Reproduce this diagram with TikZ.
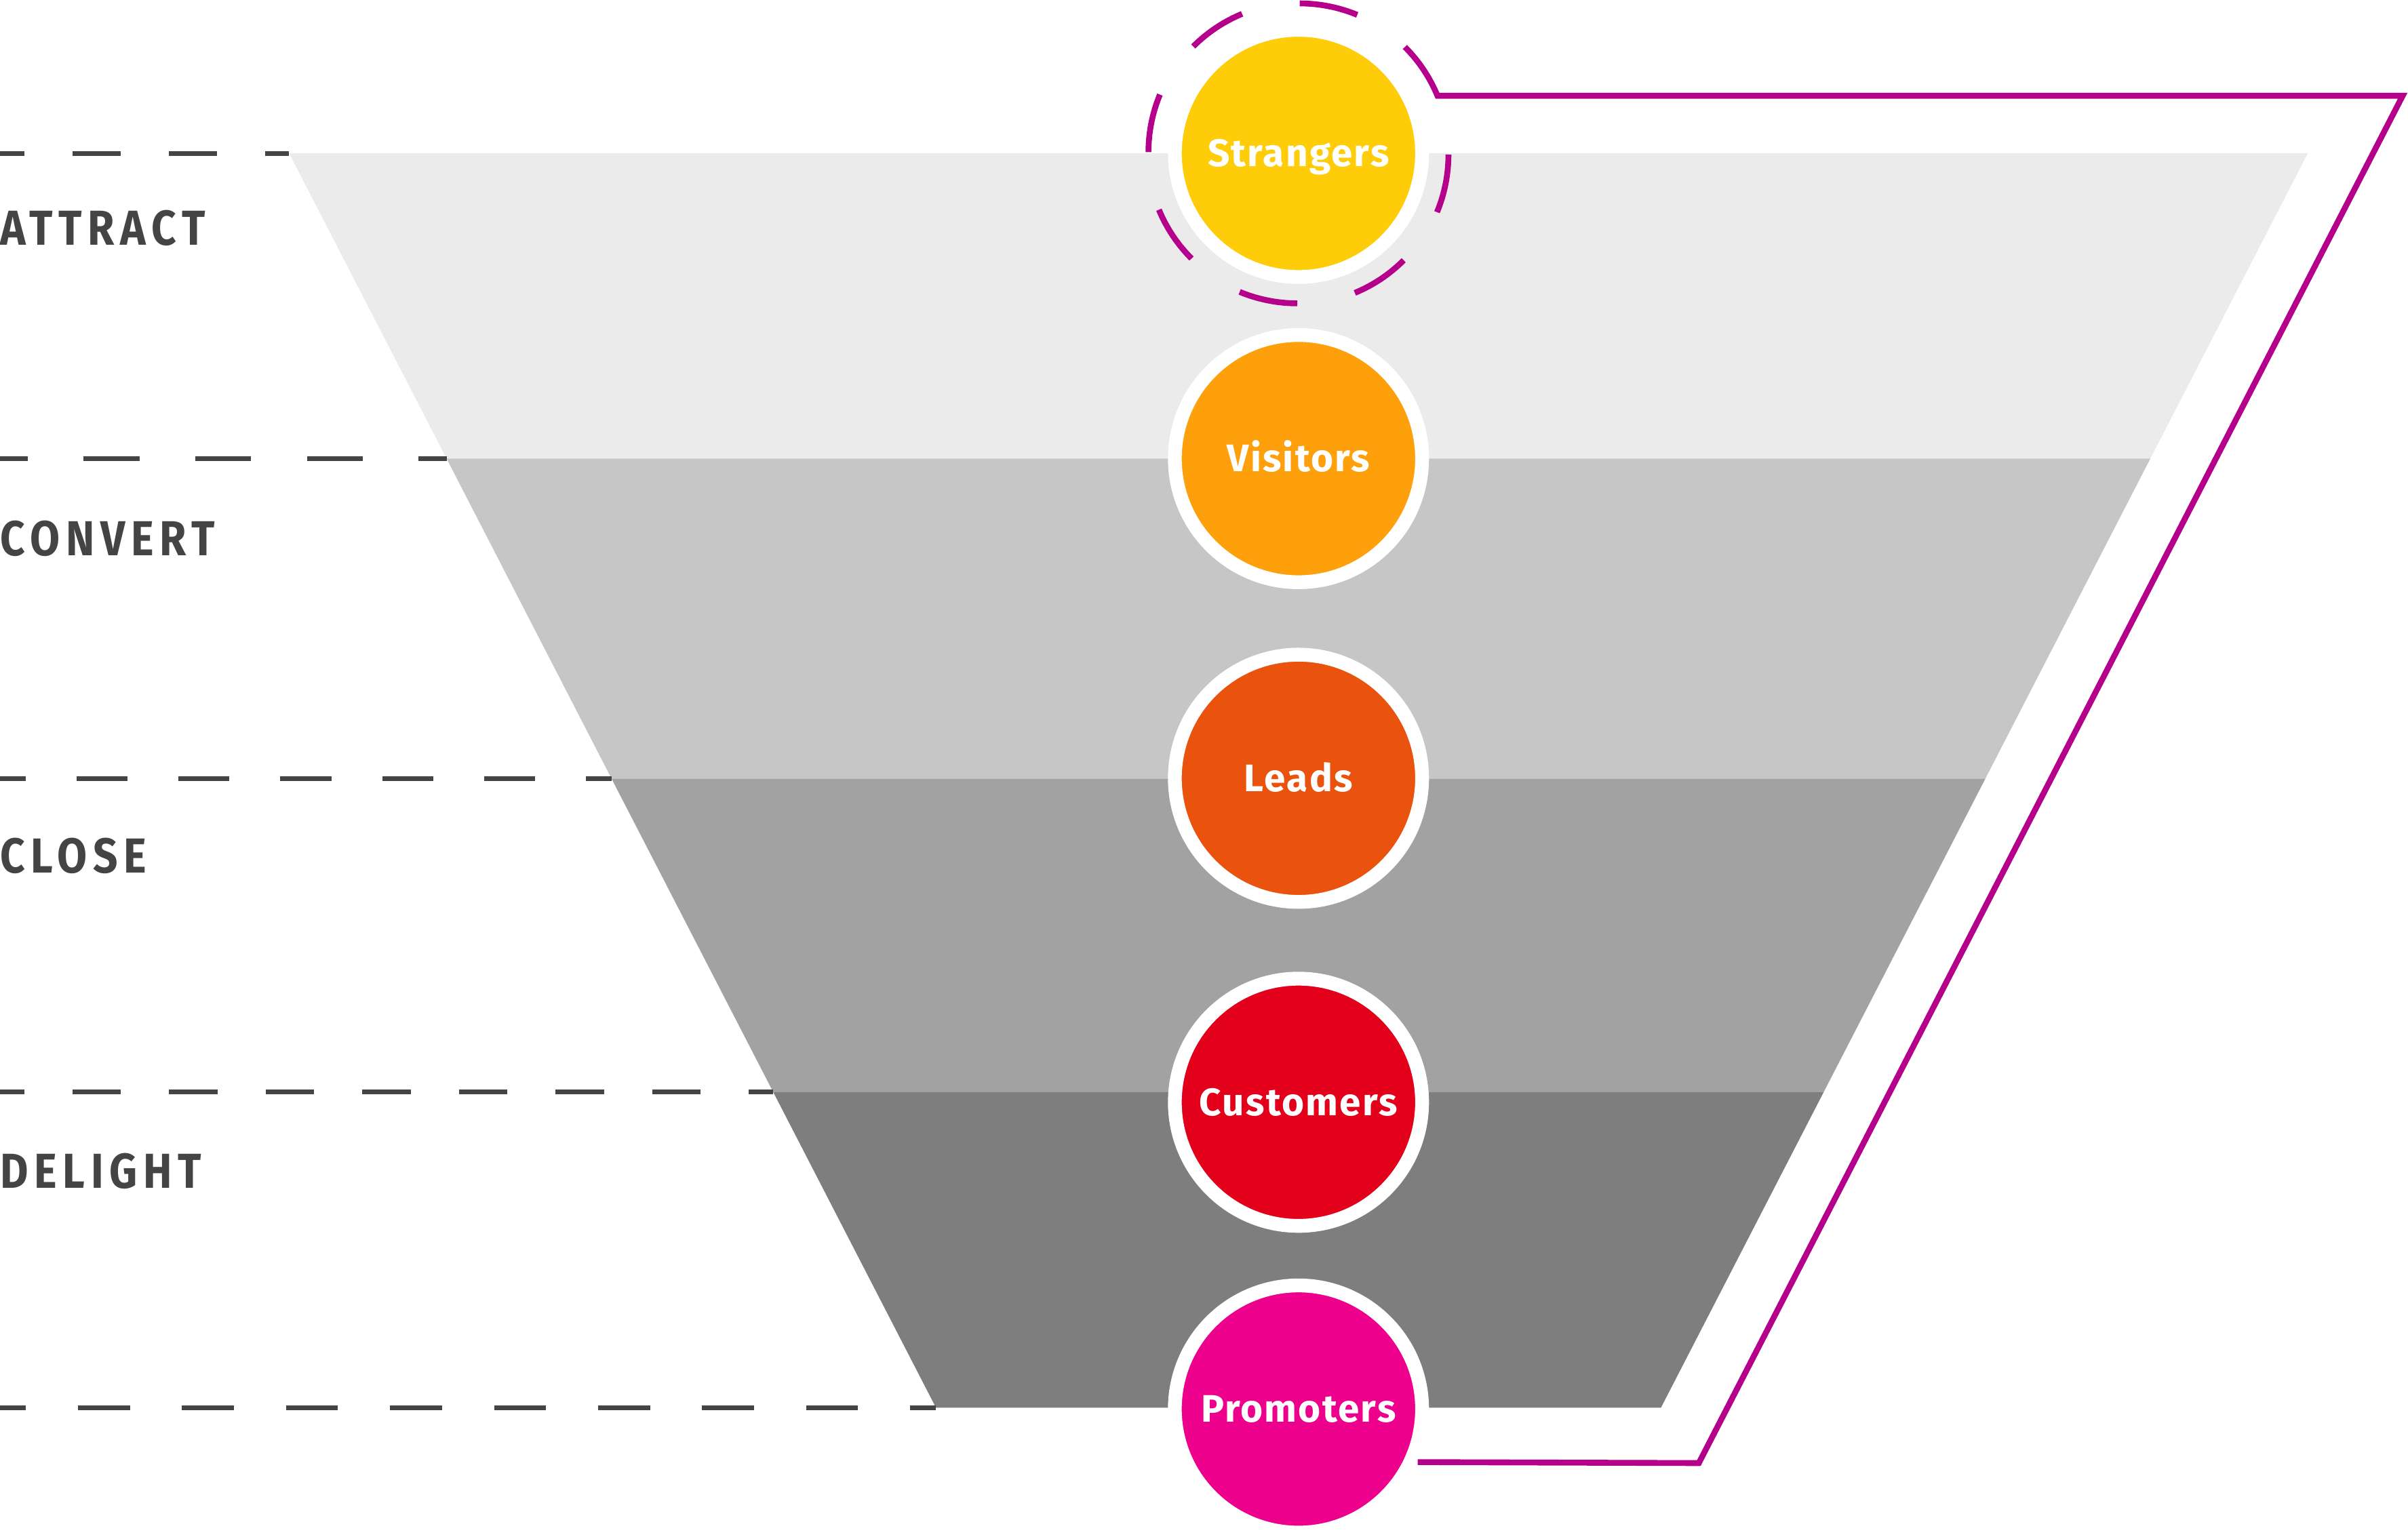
\documentclass[tikz,border=0pt]{standalone}
\usepackage{fontspec}
\setmainfont{Fira Sans}
\newfontfamily\stagefont{Fira Sans}[LetterSpace=12,FakeStretch=0.88]
\newfontfamily\ballfont{Fira Sans}[LetterSpace=4]
\usepackage{tikz}
\definecolor{bandA}{HTML}{EBEBEB}
\definecolor{bandB}{HTML}{C6C6C6}
\definecolor{bandC}{HTML}{A2A2A2}
\definecolor{bandD}{HTML}{7E7E7E}
\definecolor{ink}{HTML}{444444}
\definecolor{loopmag}{HTML}{B4008A}
\definecolor{cStr}{HTML}{FECC09}
\definecolor{cVis}{HTML}{FDA00B}
\definecolor{cLea}{HTML}{E9530D}
\definecolor{cCus}{HTML}{E2001A}
\definecolor{cPro}{HTML}{EC008C}
\tikzset{
  guide/.style={draw=ink, line width=3pt},
  stagelabel/.style={anchor=base west, inner sep=0pt, text=ink,
    font=\stagefont\bfseries\fontsize{32}{32}\selectfont},
  ball/.style={circle, minimum size=161pt, inner sep=0pt, draw=white, line width=9pt,
    text=white, text height=17.2pt, text depth=0pt,
    font=\ballfont\bfseries\fontsize{25}{25}\selectfont},
  loopline/.style={draw=loopmag, line width=3.8pt},
}

\begin{document}
\begin{tikzpicture}[x=1pt,y=1pt]
    \useasboundingbox (0,0) rectangle (1568,1002.3);
    % funnel
    \fill[bandA] (188.3,902.4) -- (1502.7,902.4) -- (1400.2,703.6) -- (290.8,703.6) -- cycle;
    \fill[bandB] (290.8,703.6) -- (1400.2,703.6) -- (1292.7,495.0) -- (398.3,495.0) -- cycle;
    \fill[bandC] (398.3,495.0) -- (1292.7,495.0) -- (1187.6,291.2) -- (503.4,291.2) -- cycle;
    \fill[bandD] (503.4,291.2) -- (1187.6,291.2) -- (1081.5,85.4) -- (609.5,85.4) -- cycle;
    % stage guides
    \foreach \y/\l/\n in {902.4/188.3/3, 703.6/290.8/4, 495.0/398.3/6, 291.2/503.4/8, 85.4/609.5/9} {
        \pgfmathsetmacro{\d}{\l/(2*\n)}
        \pgfmathsetmacro{\h}{\d/2}
        \draw[guide, dash pattern=on \d pt off \d pt, dash phase=\h pt] (0,\y) -- (\l,\y);
    }
    \node[stagelabel] (attract) at (0,842.7) {ATTRACT};
    \node[stagelabel] (convert) at (0,640.6) {CONVERT};
    \node[stagelabel] (close) at (0,434.0) {CLOSE};
    \node[stagelabel] (delight) at (0,228.4) {DELIGHT};
    % stages
    \node[ball, fill=cStr] (strangers) at (845.5,902.4) {Strangers};
    \node[ball, fill=cVis] (visitors) at (845.5,703.6) {Visitors};
    \node[ball, fill=cLea] (leads) at (845.5,495.4) {Leads};
    \node[ball, fill=cCus] (customers) at (845.5,284.4) {Customers};
    \node[ball, fill=cPro] (promoters) at (845.5,84.6) {Promoters};
    \node[circle, minimum size=196pt, inner sep=0pt, outer sep=0pt] (sring) at (strangers) {};
    % loop back
    \coordinate (turnA) at (1564.5,939.9);
    \coordinate (turnB) at (1106.2,49.4);
    \draw[loopline] (sring.45) arc[start angle=45, end angle=22.5, radius=98]
        -- (turnA) -- (turnB) -- (promoters.-24.5);
    \foreach \a in {67.5,112.5,...,337.5}
        \draw[loopline] (sring.\a) arc[start angle=\a, end angle=\a+22.5, radius=98];
\end{tikzpicture}
\end{document}
